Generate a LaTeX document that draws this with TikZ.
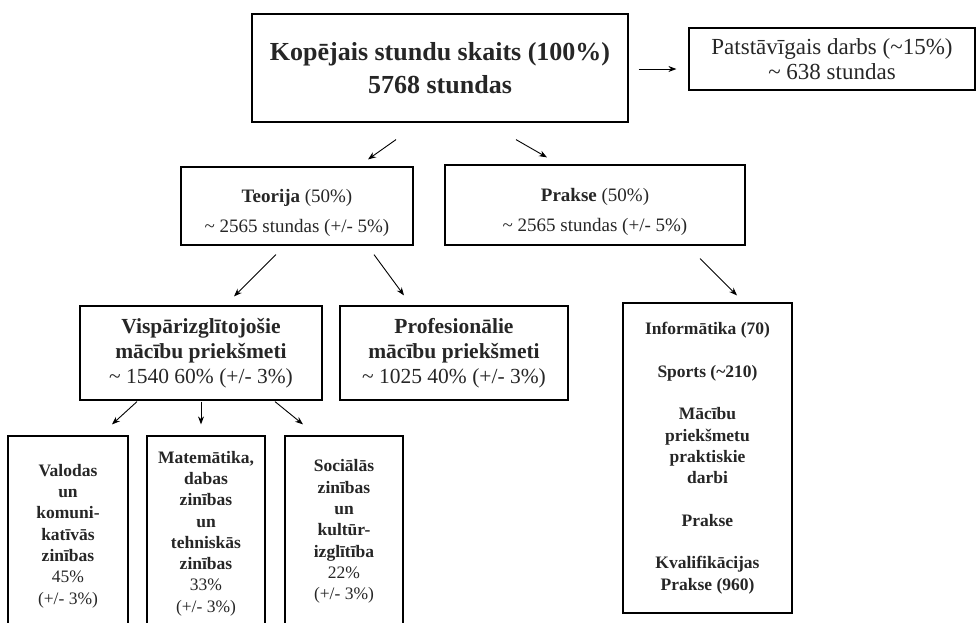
\documentclass[tikz,border=0pt]{standalone}
\usepackage{fontspec}
\setmainfont{Liberation Serif}
\usetikzlibrary{arrows.meta}
\begin{document}
\begin{tikzpicture}[x=1pt,y=-1pt,>={Stealth[length=8pt,width=6pt]},
        box/.style={draw,line width=1.2pt,align=center,inner sep=0pt,text=black!85},
        small/.style={font=\fontsize{17.5}{21.3}\selectfont}]
            \useasboundingbox (0,0) rectangle (977,622);
            \node[box,minimum width=376pt,minimum height=108pt,font=\fontsize{26}{33}\selectfont\bfseries] (total) at (440,68) {Kopējais stundu skaits (100\%)\\5768 stundas};
            \node[box,minimum width=286pt,minimum height=62pt,font=\fontsize{23}{25}\selectfont] (self) at (832,59) {Patstāvīgais darbs (\textasciitilde15\%)\\\textasciitilde{} 638 stundas};
            \node[box,minimum width=232pt,minimum height=78pt,font=\fontsize{19}{30}\selectfont] (theory) at (297,206) {\mbox{}\\[-3pt]\textbf{Teorija} (50\%)\\\textasciitilde{} 2565 stundas (+/- 5\%)};
            \node[box,minimum width=300pt,minimum height=80pt,font=\fontsize{19}{30}\selectfont] (practice) at (595,205) {\mbox{}\\[-3pt]\textbf{Prakse} (50\%)\\\textasciitilde{} 2565 stundas (+/- 5\%)};
            \node[box,minimum width=242pt,minimum height=94pt,font=\fontsize{21.5}{25}\selectfont] (general) at (201,353) {\textbf{Vispārizglītojošie}\\\textbf{mācību priekšmeti}\\\textasciitilde{} 1540 60\% (+/- 3\%)};
            \node[box,minimum width=228pt,minimum height=94pt,font=\fontsize{21.5}{25}\selectfont] (prof) at (454,353) {\textbf{Profesionālie}\\\textbf{mācību priekšmeti}\\\textasciitilde{} 1025 40\% (+/- 3\%)};
            \node[box,small,minimum width=120pt,minimum height=200pt] (lang) at (68,536) {\textbf{Valodas}\\\textbf{un}\\\textbf{komuni-}\\\textbf{katīvās}\\\textbf{zinības}\\45\%\\(+/- 3\%)};
            \node[box,small,minimum width=118pt,minimum height=195pt] (math) at (206,533.5) {\textbf{Matemātika,}\\\textbf{dabas}\\\textbf{zinības}\\\textbf{un}\\\textbf{tehniskās}\\\textbf{zinības}\\33\%\\(+/- 3\%)};
            \node[box,small,minimum width=118pt,minimum height=191pt] (social) at (344,531.5) {\textbf{Sociālās}\\\textbf{zinības}\\\textbf{un}\\\textbf{kultūr-}\\\textbf{izglītība}\\22\%\\(+/- 3\%)};
            \node[box,font={\fontsize{17.5}{21.3}\selectfont\bfseries},minimum width=169pt,minimum height=310pt] (items) at (707.5,458) {Informātika (70)\\[21.3pt]Sports (\textasciitilde210)\\[21.3pt]Mācību\\priekšmetu\\praktiskie\\darbi\\[21.3pt]Prakse\\[21.3pt]Kvalifikācijas\\Prakse (960)};
            \draw[->,line width=0.9pt] ([xshift=-44pt,yshift=-17pt]total.south) -- ([xshift=71pt,yshift=7pt]theory.north);
            \draw[->,line width=0.9pt] ([xshift=76pt,yshift=-17pt]total.south) -- ([xshift=-48pt,yshift=7pt]practice.north);
            \draw[->,line width=0.9pt] ([xshift=10pt,yshift=-1pt]total.east) -- ([xshift=-12pt,yshift=-10pt]self.west);
            \draw[->,line width=0.9pt] ([xshift=-21pt,yshift=-9pt]theory.south) -- ([xshift=33pt,yshift=9pt]general.north);
            \draw[->,line width=0.9pt] ([xshift=77pt,yshift=-9pt]theory.south) -- ([xshift=-50pt,yshift=10pt]prof.north);
            \draw[->,line width=0.9pt] ([xshift=105pt,yshift=-13pt]practice.south) -- ([xshift=29.5pt,yshift=7pt]items.north);
            \draw[->,line width=0.9pt] ([xshift=-64pt,yshift=-1pt]general.south) -- ([xshift=44pt,yshift=11pt]lang.north);
            \draw[->,line width=0.9pt] ([yshift=-1pt]general.south) -- ([xshift=-5pt,yshift=11pt]math.north);
            \draw[->,line width=0.9pt] ([xshift=74pt,yshift=-1pt]general.south) -- ([xshift=-41pt,yshift=11pt]social.north);
        \end{tikzpicture}
\end{document}
